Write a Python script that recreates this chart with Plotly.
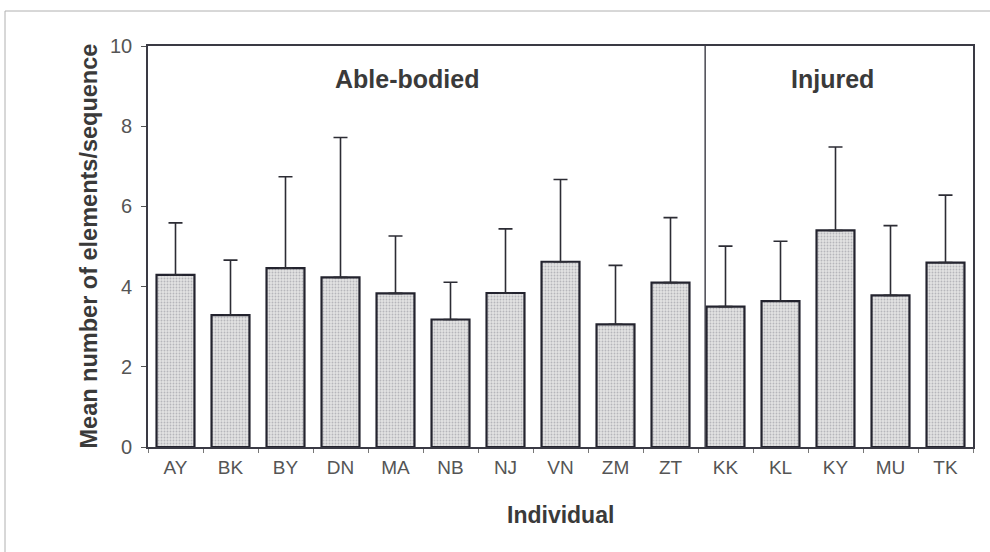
import plotly.graph_objects as go

individuals = ["AY", "BK", "BY", "DN", "MA", "NB", "NJ", "VN", "ZM", "ZT",
               "KK", "KL", "KY", "MU", "TK"]
means = [4.29, 3.29, 4.46, 4.23, 3.83, 3.18, 3.84, 4.62, 3.06, 4.10,
         3.50, 3.64, 5.40, 3.78, 4.60]
upper = [5.59, 4.66, 6.74, 7.72, 5.26, 4.11, 5.44, 6.67, 4.53, 5.72,
         5.01, 5.13, 7.48, 5.52, 6.28]
err_plus = [u - m for u, m in zip(upper, means)]
y_ticks = [0, 2, 4, 6, 8, 10]
group_labels = ["Able-bodied", "Injured"]

FONT = "Liberation Sans, Arial, sans-serif"

fig = go.Figure()
fig.add_trace(go.Bar(
    x=individuals, y=means,
    marker=dict(
        color="#dadada",
        line=dict(color="#23232e", width=2.2),
        pattern=dict(shape=".", fgcolor="#8a8a92", bgcolor="#e2e2e2",
                     size=3, solidity=0.3),
    ),
    error_y=dict(type="data", array=err_plus, arrayminus=[0] * len(means),
                 symmetric=False, color="#2c2c34", thickness=1.6, width=7),
    width=0.69,
))

fig.update_layout(
    width=990, height=552,
    margin=dict(l=148, r=17, t=46, b=105),
    paper_bgcolor="white", plot_bgcolor="white",
    showlegend=False,
    font=dict(family=FONT, color="#4a4a4a"),
    xaxis=dict(
        type="category", showline=True, mirror=True, linecolor="#3a3a44",
        linewidth=1.6, ticks="outside", tickson="boundaries", ticklen=4,
        tickcolor="#777", tickfont=dict(size=19, color="#555"),
        ticklabelstandoff=2,
        showgrid=False, range=[-0.5, 14.5],
    ),
    yaxis=dict(
        range=[0, 10], tickvals=y_ticks, showline=True, mirror=True,
        linecolor="#3a3a44", linewidth=1.6, ticks="outside", ticklen=5,
        tickcolor="#555", tickfont=dict(size=20, color="#555"),
        ticklabelstandoff=5,
        showgrid=False, zeroline=False,
    ),
    shapes=[
        dict(type="line", xref="x", yref="paper", x0=9.63, x1=9.63,
             y0=0, y1=1, line=dict(color="#3a3a44", width=1.4)),
        dict(type="rect", xref="paper", yref="paper",
             x0=(5 - 148) / 825, x1=1.05, y0=-0.3, y1=(447 - 11) / 401,
             line=dict(color="#b0b0b0", width=1), layer="below"),
    ],
    annotations=[
        dict(text="<b>" + group_labels[0] + "</b>", xref="paper", yref="paper",
             x=(407 - 148) / 825, y=(447 - 79) / 401, showarrow=False,
             font=dict(size=25, color="#3a3a3a", family=FONT),
             xanchor="center", yanchor="middle"),
        dict(text="<b>" + group_labels[1] + "</b>", xref="paper", yref="paper",
             x=(832 - 148) / 825, y=(447 - 79) / 401, showarrow=False,
             font=dict(size=25, color="#3a3a3a", family=FONT),
             xanchor="center", yanchor="middle"),
        dict(text="<b>Mean number of elements/sequence</b>", xref="paper",
             yref="paper", x=(88 - 148) / 825, y=0.5, textangle=-90,
             showarrow=False, font=dict(size=23.5, color="#3a3a3a", family=FONT),
             xanchor="center", yanchor="middle"),
        dict(text="<b>Individual</b>", xref="paper", yref="paper",
             x=0.5, y=(447 - 515) / 401, showarrow=False,
             font=dict(size=23, color="#3a3a3a", family=FONT),
             xanchor="center", yanchor="middle"),
    ],
)

fig.write_html("out.html")
